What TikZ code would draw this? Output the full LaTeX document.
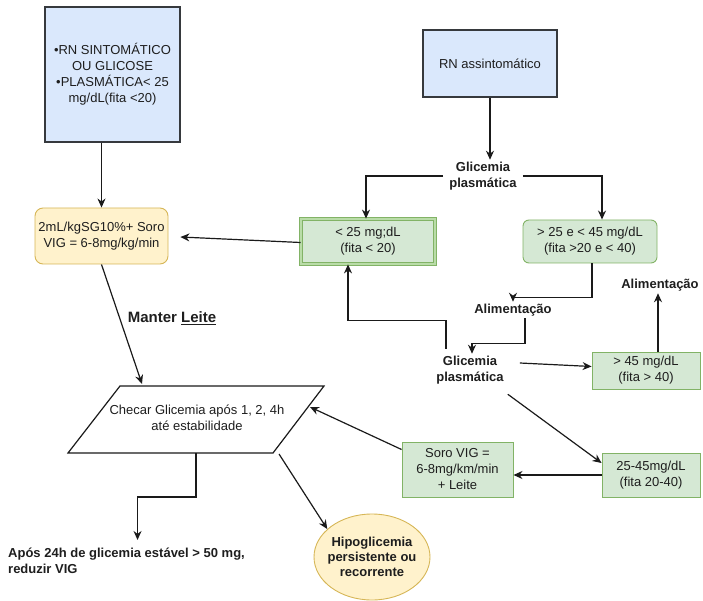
\documentclass[tikz,border=0pt]{standalone}
\usepackage{fontspec}
\setmainfont{Liberation Sans}
\usetikzlibrary{arrows.meta,shapes.geometric,calc}

\definecolor{blueFill}{HTML}{DAE8FC}
\definecolor{blueLine}{HTML}{36393D}
\definecolor{greenFill}{HTML}{D5E8D4}
\definecolor{greenLine}{HTML}{82B366}
\definecolor{greenBand}{HTML}{B9DCA8}
\definecolor{yellowFill}{HTML}{FFF2CC}
\definecolor{yellowLine}{HTML}{D6B656}
\definecolor{ink}{HTML}{1E1E1E}
\definecolor{wire}{HTML}{1A1A1A}

\begin{document}
\begin{tikzpicture}[x=1pt,y=-1pt,
  txt/.style={font=\fontsize{13}{16}\selectfont, text=ink, align=center},
  bluebox/.style={txt, draw=blueLine, fill=blueFill, line width=1.4pt, inner sep=0pt},
  greenbox/.style={txt, draw=greenLine, fill=greenFill, line width=0.9pt, inner sep=0pt},
  rgreenbox/.style={greenbox, rounded corners=6pt},
  yellowbox/.style={txt, draw=yellowLine, fill=yellowFill, line width=0.9pt, inner sep=0pt, rounded corners=8pt},
  lbl/.style={font=\bfseries\fontsize{13}{16}\selectfont, text=ink, align=center, inner xsep=6pt, inner ysep=2pt},
  arr/.style={-{Stealth[length=9pt,width=8pt]}, line width=1.2pt, draw=wire},
  wireline/.style={line width=1.2pt, draw=wire}
]
\useasboundingbox (0,0) rectangle (703,601);

% entry boxes
\node[bluebox, minimum width=135pt, minimum height=135pt] (sint) at (112.5,74.5)
  {•RN SINTOMÁTICO\\OU GLICOSE\\•PLASMÁTICA< 25\\mg/dL(fita <20)};
\node[bluebox, minimum width=134pt, minimum height=67pt] (assint) at (490,63.5) {RN assintomático};

% decision labels
\node[lbl] (glic1) at (483,176) {Glicemia\\plasmática};
\node[lbl] (glic2) at (470,370) {Glicemia\\plasmática};
\node[lbl] (alim1) at (513,310) {Alimentação};
\node[lbl] (alim2) at (660,285) {Alimentação};

% treatment and range boxes
\node[yellowbox, minimum width=133pt, minimum height=56pt] (yellow) at (101.5,236)
  {2mL/kgSG10\%+ Soro\\VIG = 6-8mg/kg/min};
\node[greenbox, minimum width=134pt, minimum height=45pt,
      line width=0.8pt, double=greenBand, double distance=2.2pt] (lt25) at (368,241.5)
  {< 25 mg;dL\\(fita < 20)};
\node[rgreenbox, minimum width=134pt, minimum height=43pt] (gt25) at (590,241.5)
  {> 25 e < 45 mg/dL\\(fita >20 e < 40)};
\node[greenbox, minimum width=108pt, minimum height=37pt] (gt45) at (646,370.5)
  {> 45 mg/dL\\(fita > 40)};
\node[greenbox, minimum width=98pt, minimum height=44pt] (r2545) at (651,475)
  {25-45mg/dL\\(fita 20-40)};
\node[greenbox, minimum width=111pt, minimum height=55pt] (soro) at (457.5,469.5)
  {Soro VIG =\\6-8mg/km/min\\+ Leite};

% check step (parallelogram)
\coordinate (pTL) at (120,386);
\coordinate (pTR) at (324,386);
\coordinate (pBR) at (273,453);
\coordinate (pBL) at (68,453);
\draw[wireline, fill=white] (pTL) -- (pTR) -- (pBR) -- (pBL) -- cycle;
\node[txt] (chk) at (197,418) {Checar Glicemia após 1, 2, 4h\\até estabilidade};
\coordinate (pIn) at (142,384);
\coordinate (pSide) at (310,407);
\coordinate (pOut) at (196,453);
\coordinate (pDiag) at (279,454);

% outcomes
\node[ellipse, draw=yellowLine, fill=yellowFill, line width=0.9pt,
      minimum width=116pt, minimum height=86pt, inner sep=0pt] (hypo) at (372,557) {};
\node[lbl, font=\bfseries\fontsize{13}{15}\selectfont] (hypotxt) at (hypo) {Hipoglicemia\\persistente ou\\recorrente};
\node[lbl, anchor=west, align=left, inner xsep=0pt] (apos) at (8,561)
  {Após 24h de glicemia estável > 50 mg,\\reduzir VIG};
\node[font=\bfseries\fontsize{15}{18}\selectfont, text=ink] (manter) at (172,318) {Manter \underline{Leite}};

% connectors
\draw[arr] (yellow.north |- sint.south) -- (yellow.north);
\draw[arr] (assint.south) -- (assint.south |- glic1.north);
\draw[arr] (glic1.west) -| ([xshift=-2pt]lt25.north);
\draw[arr] (glic1.east) -| ([xshift=12pt]gt25.north);
\draw[arr] ([yshift=-1pt]lt25.west) -- ([xshift=12pt,yshift=-1pt]yellow.east);
\draw[arr] ([xshift=2pt]gt25.south) -- ++(0,34) -| (alim1.north);
\draw[arr] ([xshift=12pt]alim1.south) -- ++(0,25) -| ([xshift=2pt]glic2.north);
\draw[arr] ([xshift=-24pt,yshift=5pt]glic2.north) -- ++(0,-28) -| ([xshift=-20pt]lt25.south);
\draw[arr] ([xshift=10pt,yshift=7pt]glic2.east) -- ([yshift=4pt]gt45.west);
\draw[arr] ([xshift=12pt]gt45.north) -- ([xshift=12pt]gt45.north |- alim2.south);
\draw[arr] ([xshift=-2pt,yshift=-8pt]glic2.south east) -- ([yshift=12pt]r2545.west);
\draw[arr] (r2545.west) -- (r2545.west -| soro.east);
\draw[arr] ([yshift=20pt]soro.west) -- (pSide);
\draw[arr] (yellow.south) -- (pIn);
\draw[arr] (pOut) -- ++(0,44) -| ([xshift=11pt,yshift=6pt]apos.north);
\draw[arr] (pDiag) -- (hypo.148);
\end{tikzpicture}
\end{document}
